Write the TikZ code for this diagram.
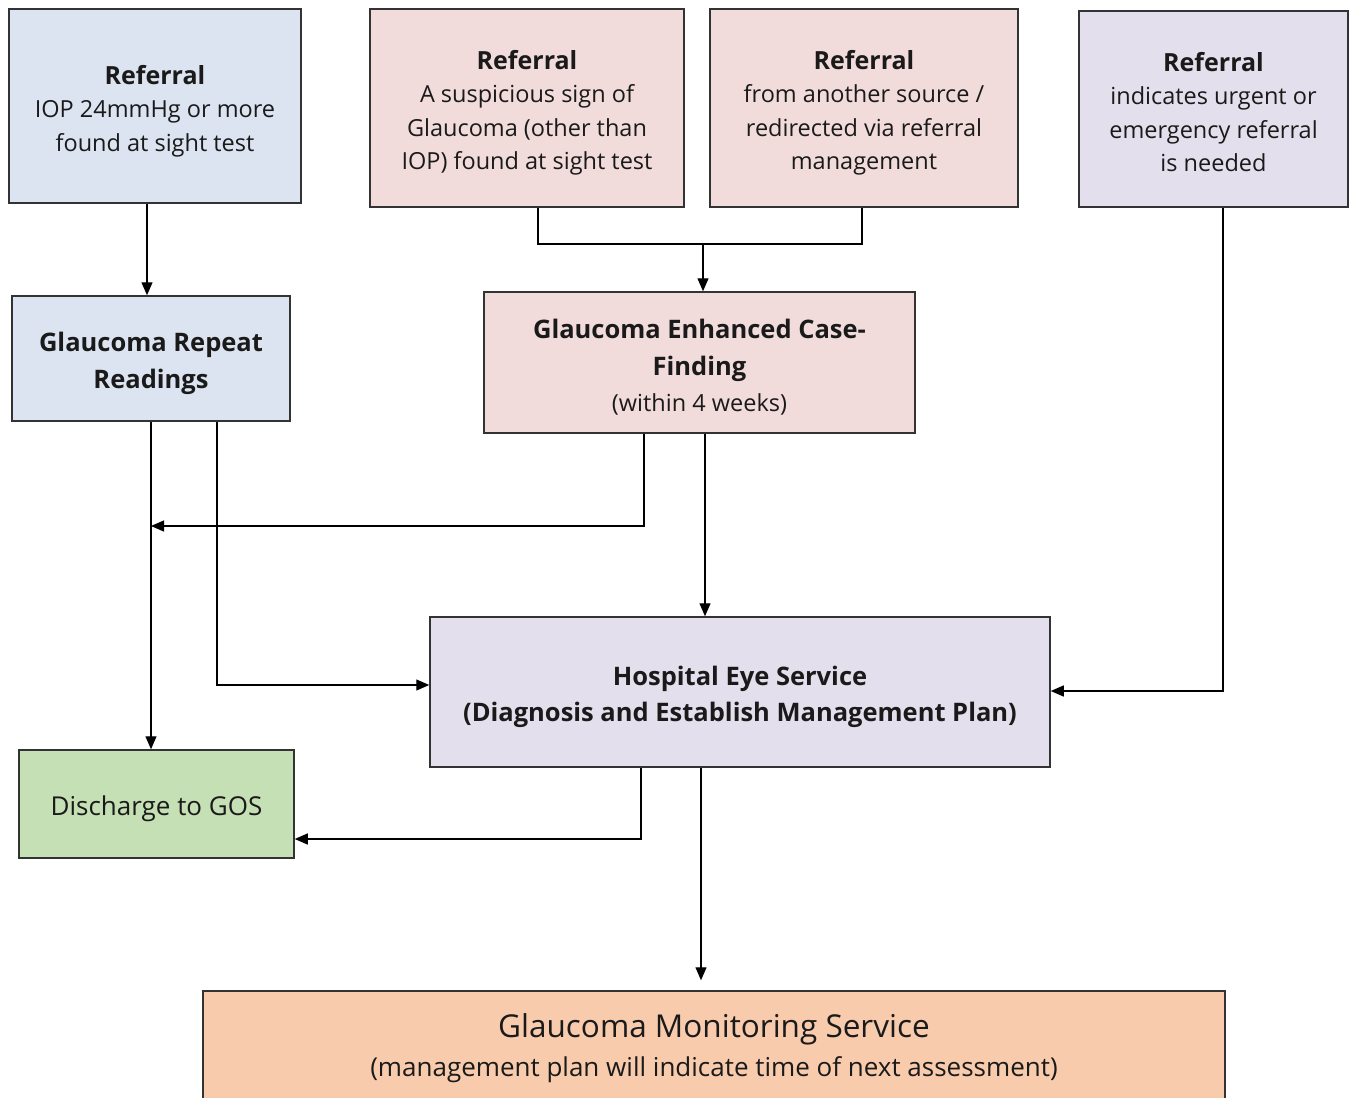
\documentclass[tikz,border=0pt]{standalone}
\usepackage{fontspec}
\setmainfont{Open Sans}
\usetikzlibrary{arrows.meta}
\definecolor{cblue}{HTML}{DBE4F0}
\definecolor{cpink}{HTML}{F2DCDB}
\definecolor{clav}{HTML}{E4DFEC}
\definecolor{cgreen}{HTML}{C5E0B4}
\definecolor{cpeach}{HTML}{F8CBAD}
\definecolor{boxline}{HTML}{333333}
\definecolor{txt}{HTML}{1A1A1A}
\newcommand\bodyf{\fontsize{23.5}{33.5}\selectfont\mdseries}
\newcommand\headf{\fontsize{25}{35}\selectfont\bfseries}
\newcommand\titlef{\fontsize{25.5}{36.5}\selectfont\bfseries}
\newcommand\bigf{\fontsize{31.5}{39}\selectfont}
\newcommand\midf{\fontsize{26}{39}\selectfont}
\begin{document}
\begin{tikzpicture}[x=1pt,y=-1pt,
  box/.style={draw=boxline, line width=1.5pt, inner sep=0pt},
  lbl/.style={inner sep=0pt, align=center, text=txt, font=\bodyf, yshift=-5pt},
  arr/.style={line width=1.3pt, draw=black, -{Triangle[length=13pt,width=11pt]}},
  ln/.style={line width=1.3pt, draw=black}]
\useasboundingbox (0,0) rectangle (1351,1097);
% boxes
\node[box, fill=cblue, minimum width=292pt, minimum height=194pt] (A) at (155,106) {};
\node[lbl] (At) at (A) {{\headf Referral}\\IOP 24mmHg or more\\found at sight test};
\node[box, fill=cpink, minimum width=314pt, minimum height=198pt] (B) at (527,108) {};
\node[lbl] (Bt) at (B) {{\headf Referral}\\A suspicious sign of\\Glaucoma (other than\\IOP) found at sight test};
\node[box, fill=cpink, minimum width=308pt, minimum height=198pt] (C) at (864,108) {};
\node[lbl] (Ct) at (C) {{\headf Referral}\\from another source /\\redirected via referral\\management};
\node[box, fill=clav, minimum width=269pt, minimum height=196pt] (D) at (1213.5,109) {};
\node[lbl, yshift=2pt] (Dt) at (D) {{\headf Referral}\\indicates urgent or\\emergency referral\\is needed};
\node[box, fill=cblue, minimum width=278pt, minimum height=125pt] (E) at (151,358.5) {};
\node[lbl, font=\titlef] (Et) at (E) {Glaucoma Repeat\\Readings};
\node[box, fill=cpink, minimum width=431pt, minimum height=141pt] (F) at (699.5,362.5) {};
\node[lbl, font=\titlef] (Ft) at (F) {Glaucoma Enhanced Case-\\Finding\\{\bodyf (within 4 weeks)}};
\node[box, fill=clav, minimum width=620pt, minimum height=150pt] (G) at (740,692) {};
\node[lbl, font=\titlef] (Gt) at (G) {Hospital Eye Service\\(Diagnosis and Establish Management Plan)};
\node[box, fill=cgreen, minimum width=275pt, minimum height=108pt] (H) at (156.5,804) {};
\node[lbl, font=\midf] (Ht) at (H) {Discharge to GOS};
\node[box, fill=cpeach, minimum width=1022pt, minimum height=114pt] (I) at (714,1048) {};
\node[lbl, font=\midf, yshift=5pt] (It) at (I) {{\bigf Glaucoma Monitoring Service}\\(management plan will indicate time of next assessment)};
% helper x-positions
\coordinate (x147) at (147,0);
\coordinate (x151) at (151,0);
\coordinate (x217) at (217,0);
\coordinate (x538) at (538,0);
\coordinate (x641) at (641,0);
\coordinate (x644) at (644,0);
\coordinate (x701) at (701,0);
\coordinate (x703) at (703,0);
\coordinate (x705) at (705,0);
\coordinate (x862) at (862,0);
\coordinate (x1223) at (1223,0);
\coordinate (y244) at (0,244);
\coordinate (y526) at (0,526);
\coordinate (y685) at (0,685);
\coordinate (y691) at (0,691);
\coordinate (y839) at (0,839);
% connectors
\draw[arr] (A.south -| x147) -- (E.north -| x147);
\draw[ln] (B.south -| x538) |- (y244 -| x862) -- (C.south -| x862);
\draw[arr] (y244 -| x703) -- (F.north -| x703);
\draw[arr] (F.south -| x644) |- (y526 -| x151);
\draw[arr] (E.south -| x151) -- (H.north -| x151);
\draw[arr] (E.south -| x217) |- (G.west |- y685);
\draw[arr] (F.south -| x705) -- (G.north -| x705);
\draw[arr] (D.south -| x1223) |- (G.east |- y691);
\draw[arr] (G.south -| x641) |- (H.east |- y839);
\draw[arr] (G.south -| x701) -- ([yshift=10pt]I.north -| x701);
\end{tikzpicture}
\end{document}
